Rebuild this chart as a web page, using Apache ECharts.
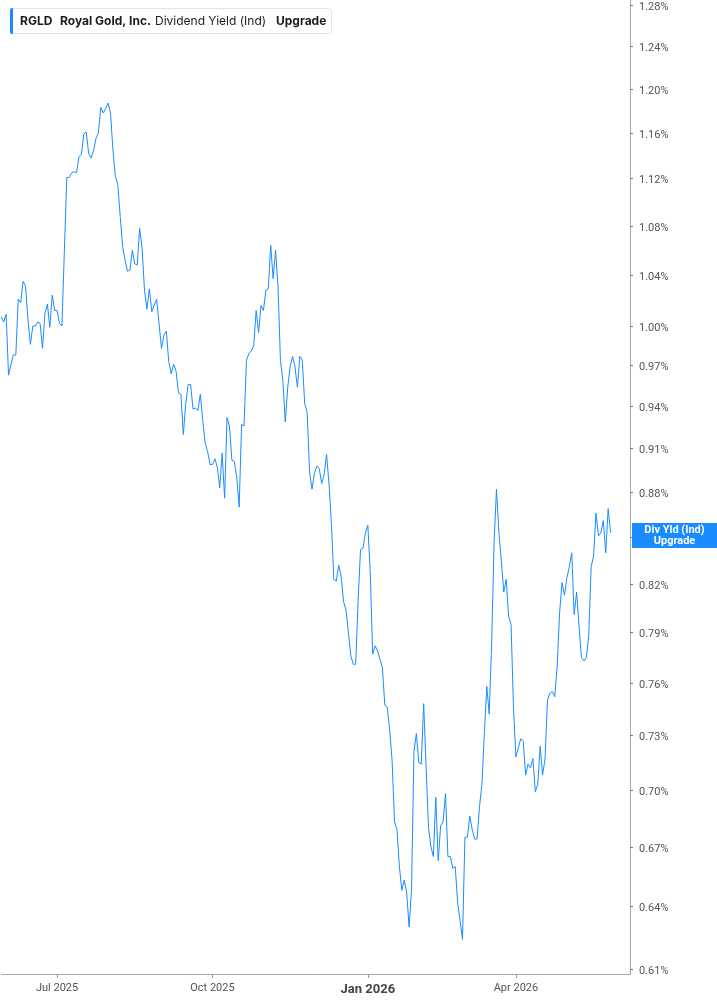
<!DOCTYPE html>
<html><head><meta charset="utf-8">
<script src="https://cdn.jsdelivr.net/npm/echarts@6/dist/echarts.min.js"></script>
<style>html,body{margin:0;padding:0;background:#fff}#c{width:717px;height:1005px}</style>
</head><body><div id="c"></div>
<script>
// ---- categories: NYSE trading days ----
const START_DATE = '2025-05-28';
const END_DATE = '2026-06-09';
const HOLIDAYS = ['2025-06-19','2025-07-04','2025-09-01','2025-11-27','2025-12-25',
  '2026-01-01','2026-01-19','2026-02-16','2026-04-03','2026-05-25'];
const MONTH_TICK_DATES = ['2025-07-01','2025-10-01','2026-01-02','2026-04-01'];
const MONTH_TICK_LABELS = ['Jul 2025','Oct 2025','Jan 2026','Apr 2026'];
const BOLD_TICK_LABEL = 'Jan 2026';

// ---- y axis ticks (percent) ----
const Y_TICKS = [0.61,0.64,0.67,0.70,0.73,0.76,0.79,0.82,0.85,0.88,0.91,0.94,0.97,1.00,1.04,1.08,1.12,1.16,1.20,1.24,1.28];
const Y_MIN = 0.6076, Y_MAX = 1.2849;

// ---- Dividend yield (Ind), % ----
const yieldMayJun25 = [1.007,1.003,1.009,0.963,0.971,0.978,0.978,1.021,1.018,1.035,1.031,1.005,0.986,1.000,1.000,1.003,1.002,0.983,1.010,1.017,0.999,1.024,1.012];
const yieldJulSep25 = [1.012,1.002,1.000,1.060,1.121,1.121,1.125,1.126,1.125,1.139,1.141,1.159,1.161,1.142,1.138,1.144,1.155,1.160,1.183,1.178,1.182,1.187,1.178,1.145,1.122,1.115,1.088,1.063,1.052,1.043,1.044,1.060,1.049,1.048,1.078,1.062,1.028,1.013,1.029,1.011,1.016,1.021,1.002,0.983,0.993,0.996,0.973,0.964,0.971,0.966,0.950,0.949,0.920,0.942,0.956,0.956,0.938,0.939,0.937,0.949,0.930,0.914,0.908,0.899];
const yieldOctDec25 = [0.899,0.903,0.897,0.883,0.907,0.876,0.932,0.926,0.902,0.901,0.890,0.870,0.927,0.926,0.974,0.979,0.981,0.985,1.012,0.995,1.016,1.012,1.028,1.029,1.064,1.037,1.060,1.031,0.974,0.959,0.929,0.954,0.969,0.977,0.969,0.954,0.977,0.974,0.942,0.936,0.894,0.882,0.893,0.898,0.896,0.886,0.892,0.906,0.886,0.859,0.823,0.822,0.832,0.825,0.809,0.804,0.790,0.776,0.771,0.771,0.810,0.842,0.843,0.853];
const yieldJanMar26 = [0.858,0.827,0.777,0.782,0.779,0.774,0.769,0.747,0.746,0.733,0.716,0.683,0.679,0.660,0.648,0.653,0.647,0.630,0.648,0.721,0.731,0.715,0.714,0.748,0.713,0.680,0.670,0.665,0.696,0.663,0.681,0.683,0.698,0.665,0.665,0.659,0.660,0.642,0.633,0.624,0.675,0.675,0.686,0.679,0.674,0.674,0.691,0.703,0.731,0.758,0.742,0.783,0.846,0.882,0.853,0.835,0.815,0.823,0.800,0.795,0.746];
const yieldAprMay26 = [0.718,0.723,0.728,0.727,0.708,0.714,0.712,0.717,0.699,0.703,0.724,0.708,0.717,0.750,0.754,0.755,0.752,0.770,0.802,0.821,0.813,0.824,0.831,0.840,0.801,0.815,0.794,0.775,0.773,0.775,0.788,0.831,0.838,0.866,0.851,0.853,0.861,0.840,0.869,0.853];

function tradingDays(start, end, holidays) {
  const out = [];
  const d = new Date(start + 'T00:00:00Z');
  const e = new Date(end + 'T00:00:00Z');
  while (d <= e) {
    const wd = d.getUTCDay();
    const s = d.toISOString().slice(0, 10);
    if (wd !== 0 && wd !== 6 && holidays.indexOf(s) < 0) out.push(s);
    d.setUTCDate(d.getUTCDate() + 1);
  }
  return out;
}
const categories = tradingDays(START_DATE, END_DATE, HOLIDAYS);
const yieldData = [].concat(yieldMayJun25, yieldJulSep25, yieldOctDec25, yieldJanMar26, yieldAprMay26);
const lastValue = yieldData[yieldData.length - 1];

const LINE_COLOR = '#1a8cff';
const chart = echarts.init(document.getElementById('c'), null, {renderer: 'canvas'});
const isMonthTick = (i, v) => MONTH_TICK_DATES.indexOf(v) >= 0;

chart.setOption({
  animation: false,
  backgroundColor: '#ffffff',
  grid: {left: 1.26, right: 87, top: 0, bottom: 31, containLabel: false},
  xAxis: {
    type: 'category', data: categories, boundaryGap: false,
    axisLine: {show: true, lineStyle: {color: '#a8a8a8', width: 1}},
    axisTick: {show: true, interval: isMonthTick, length: 4, lineStyle: {color: '#999'}},
    axisLabel: {
      interval: isMonthTick, margin: 9, color: '#555', fontSize: 11, fontFamily: 'Roboto',
      formatter: (v) => {
        const t = MONTH_TICK_LABELS[MONTH_TICK_DATES.indexOf(v)] || '';
        return t === BOLD_TICK_LABEL ? '{b|' + t + '}' : t;
      },
      rich: {b: {fontWeight: 'bold', fontSize: 13, color: '#444', fontFamily: 'Roboto'}}
    },
    splitLine: {show: false}
  },
  yAxis: {
    type: 'log', logBase: 10, position: 'right', min: Y_MIN, max: Y_MAX,
    axisLine: {show: true, lineStyle: {color: '#a8a8a8', width: 1}},
    axisTick: {show: true, length: 3, customValues: Y_TICKS, lineStyle: {color: '#777'}},
    axisLabel: {
      customValues: Y_TICKS, margin: 9, color: '#555', fontSize: 11, fontFamily: 'Roboto',
      verticalAlign: 'top', lineHeight: 4,
      formatter: (v) => Number(v).toFixed(2) + '%'
    },
    splitLine: {show: false}
  },
  graphic: [
    {type: 'rect', shape: {x: 10.5, y: 8.5, width: 321, height: 25, r: 3},
      style: {fill: '#fff', stroke: '#e4e4e4', lineWidth: 1}, z: 10},
    {type: 'rect', shape: {x: 10, y: 8, width: 3, height: 26, r: [2, 0, 0, 2]},
      style: {fill: LINE_COLOR}, z: 11},
    {type: 'text', x: 20, y: 21, z: 11, style: {text: 'RGLD', fontSize: 12, fontWeight: 'bold', fontFamily: 'Inter', fill: '#1c1c1c', verticalAlign: 'middle'}},
    {type: 'text', x: 60, y: 21, z: 11, style: {text: 'Royal Gold, Inc.', fontSize: 12, fontWeight: 'bold', fontFamily: 'Inter', fill: '#1c1c1c', verticalAlign: 'middle'}},
    {type: 'text', x: 155, y: 21, z: 11, style: {text: 'Dividend Yield (Ind)', fontSize: 12, fontFamily: 'Inter', fill: '#1c1c1c', verticalAlign: 'middle'}},
    {type: 'text', x: 276, y: 21, z: 11, style: {text: 'Upgrade', fontSize: 12, fontWeight: 'bold', fontFamily: 'Inter', fill: '#1c1c1c', verticalAlign: 'middle'}}
  ],
  series: [{
    type: 'line', data: yieldData, symbol: 'none', showSymbol: false, smooth: false,
    lineStyle: {color: LINE_COLOR, width: 1}, itemStyle: {color: LINE_COLOR},
    markLine: {
      silent: true, symbol: 'none', animation: false,
      lineStyle: {color: 'rgba(0,0,0,0)', width: 0, type: 'solid'},
      data: [{yAxis: lastValue}],
      label: {
        show: true, position: 'end', distance: 2, opacity: 1, offset: [0, -2],
        formatter: '{a|Div Yld (Ind)}\n{a|Upgrade}',
        backgroundColor: LINE_COLOR, padding: [2, 0, 1, 0],
        rich: {a: {width: 85, align: 'center', color: '#fff', fontWeight: 'bold', fontSize: 11, lineHeight: 11, fontFamily: 'Roboto'}}
      }
    }
  }]
});
</script>
</body></html>
